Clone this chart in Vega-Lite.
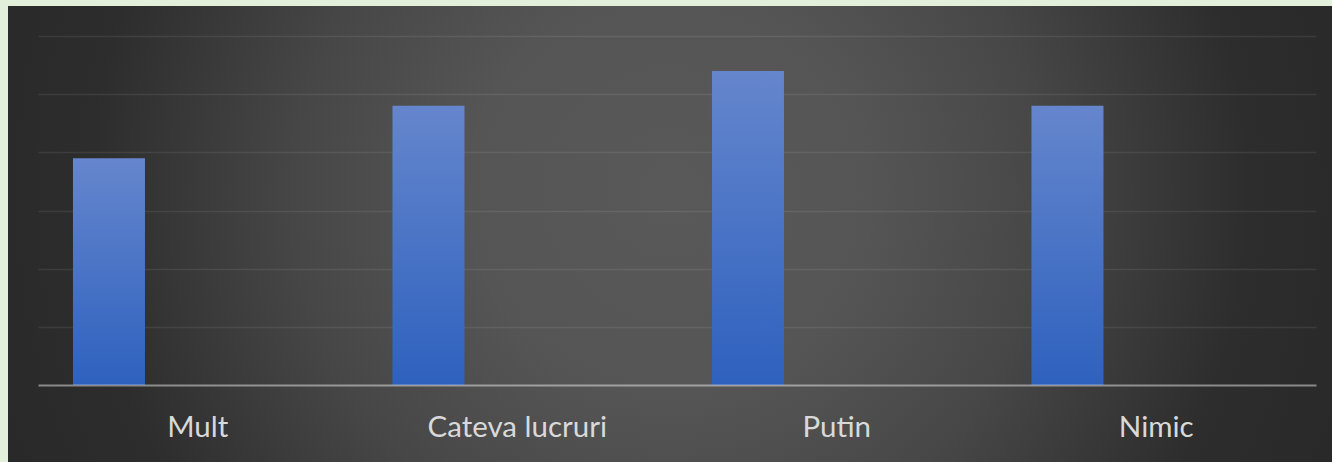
{
  "$schema": "https://vega.github.io/schema/vega-lite/v6.json",
  "width": 1324,
  "height": 456,
  "autosize": {"type": "none"},
  "padding": {"left": 8, "top": 6, "right": 0, "bottom": 0},
  "background": "#e2efda",
  "data": {
    "values": [
      {"raspuns": "Mult", "serie": "Seria 1", "valoare": 3.9},
      {"raspuns": "Cateva lucruri", "serie": "Seria 1", "valoare": 4.8},
      {"raspuns": "Putin", "serie": "Seria 1", "valoare": 5.4},
      {"raspuns": "Nimic", "serie": "Seria 1", "valoare": 4.8}
    ]
  },
  "mark": {
    "type": "bar",
    "color": {
      "gradient": "linear",
      "x1": 0, "y1": 0, "x2": 0, "y2": 1,
      "stops": [
        {"offset": 0, "color": "#6586cd"},
        {"offset": 1, "color": "#2e61be"}
      ]
    }
  },
  "encoding": {
    "x": {
      "field": "raspuns",
      "type": "nominal",
      "sort": null,
      "scale": {"range": [30, 1308], "paddingInner": 0, "paddingOuter": 0},
      "axis": {
        "title": null,
        "orient": "bottom",
        "offset": -77,
        "domain": true,
        "domainColor": "#ffffff",
        "domainOpacity": 0.45,
        "domainWidth": 2,
        "ticks": false,
        "labelAngle": 0,
        "labelFont": "Lato",
        "labelFontSize": 29.5,
        "labelColor": "#d9d9d9",
        "labelPadding": 28,
        "zindex": 1
      }
    },
    "xOffset": {
      "field": "serie",
      "type": "nominal",
      "scale": {"domain": ["Seria 1", "Seria 2", "Seria 3"], "paddingInner": 0.189, "paddingOuter": 0.394}
    },
    "y": {
      "field": "valoare",
      "type": "quantitative",
      "scale": {"domain": [0, 6], "range": [379, 30], "nice": false, "zero": true},
      "axis": {
        "title": null,
        "values": [1, 2, 3, 4, 5, 6],
        "labels": false,
        "ticks": false,
        "domain": false,
        "grid": true,
        "gridColor": "#ffffff",
        "gridOpacity": 0.08,
        "gridWidth": 1.5,
        "zindex": 0
      }
    }
  },
  "config": {
    "view": {
      "stroke": null,
      "fill": {
        "gradient": "radial",
        "x1": 0.5, "y1": 0.47, "r1": 0,
        "x2": 0.5, "y2": 0.47, "r2": 0.56,
        "stops": [
          {"offset": 0, "color": "#595959"},
          {"offset": 0.27, "color": "#555555"},
          {"offset": 0.5, "color": "#474747"},
          {"offset": 0.78, "color": "#2d2d2d"},
          {"offset": 1, "color": "#282828"}
        ]
      }
    }
  }
}
